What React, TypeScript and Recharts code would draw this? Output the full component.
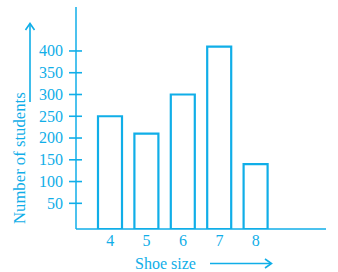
import React from "react";
import { BarChart, Bar, XAxis, YAxis } from "recharts";

const sizes = ["4", "5", "6", "7", "8"];
const students = [250, 210, 300, 410, 140];
const yTicks = [50, 100, 150, 200, 250, 300, 350, 400];
const Y_MIN = -9;
const Y_MAX = 501;

const COLOR = "#10aee8";
const FONT = "'Liberation Serif', 'Times New Roman', serif";

const data = sizes.map((s, i) => ({ size: s, range: [Y_MIN, students[i]] }));

const YTick = (props: any) => {
  const { x, y, payload } = props;
  return (
    <g>
      <line x1={x - 7} x2={x + 6} y1={y} y2={y} stroke={COLOR} strokeWidth={1.6} />
      <text x={x - 13} y={y} dy="0.34em" textAnchor="end" fill={COLOR} fontSize={16} fontFamily={FONT}>
        {payload.value}
      </text>
    </g>
  );
};

const XTick = (props: any) => {
  const { x, y, payload } = props;
  return (
    <text x={x} y={y} dy="0.71em" textAnchor="middle" fill={COLOR} fontSize={16} fontFamily={FONT}>
      {payload.value}
    </text>
  );
};

const XLabel = () => (
  <g>
    <text x={135} y={269} fill={COLOR} fontSize={16} fontFamily={FONT}>
      Shoe size
    </text>
    <line x1={210} x2={271} y1={263.5} y2={263.5} stroke={COLOR} strokeWidth={1.6} />
    <path d="M265,259 L271.5,263.5 L265,268" fill="none" stroke={COLOR} strokeWidth={1.6} />
  </g>
);

const YLabel = () => (
  <g>
    <text
      x={25}
      y={224}
      transform="rotate(-90, 25, 224)"
      fill={COLOR}
      fontSize={16.7}
      fontFamily={FONT}
    >
      Number of students
    </text>
    <line x1={30} x2={30} y1={102} y2={24} stroke={COLOR} strokeWidth={1.6} />
    <path d="M25.5,30 L30,23.5 L34.5,30" fill="none" stroke={COLOR} strokeWidth={1.6} />
  </g>
);

export default function App() {
  return (
    <div style={{ position: "absolute", left: 0, top: 0, background: "#fff" }}>
      <BarChart
        width={338}
        height={272}
        data={data}
        margin={{ top: 7, right: 12, bottom: 0, left: 0 }}
        barSize={24}
      >
        <XAxis
          dataKey="size"
          height={43}
          padding={{ left: 16, right: 52 }}
          interval={0}
          tickLine={false}
          tickSize={0}
          tickMargin={6}
          axisLine={{ stroke: COLOR, strokeWidth: 1.5 }}
          tick={<XTick />}
          label={<XLabel />}
        />
        <YAxis
          type="number"
          domain={[Y_MIN, Y_MAX]}
          ticks={yTicks}
          interval={0}
          width={76}
          tickLine={false}
          tickSize={0}
          tickMargin={0}
          axisLine={{ stroke: COLOR, strokeWidth: 1.5 }}
          tick={<YTick />}
          label={<YLabel />}
          allowDataOverflow
        />
        <Bar dataKey="range" fill="#fff" stroke={COLOR} strokeWidth={2.2} isAnimationActive={false} />
      </BarChart>
    </div>
  );
}
